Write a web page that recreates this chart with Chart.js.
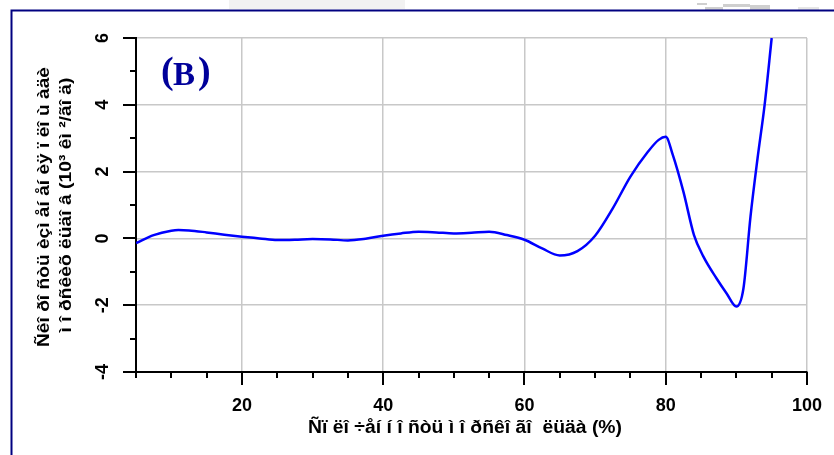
<!DOCTYPE html>
<html>
<head>
<meta charset="utf-8">
<script src="https://cdn.jsdelivr.net/npm/chart.js@4/dist/chart.umd.min.js"></script>
<style>
  html, body { margin: 0; padding: 0; background: #ffffff; }
  #wrap { width: 834px; height: 455px; position: relative; }
</style>
</head>
<body>
<div id="wrap"><canvas id="c" width="834" height="455"></canvas></div>
<script>
// Sea-ice concentration (%) and rate of change of sea-ice area (10^3 km^2/yr)
const concentration = [5, 7.5, 10, 11, 12.5, 15, 17.5, 20, 22.5, 25, 27.5, 30, 32.5, 35, 37.5,
  40, 42.5, 45, 47.5, 50, 52.5, 55, 57.5, 60, 62.5, 65, 67.5, 70, 72.5, 75, 77.5, 79, 80,
  81, 82.5, 84, 85.3, 87.2, 88.6, 90, 91, 92, 93, 94, 95];
const changeRate = [-0.14, 0.1, 0.23, 0.25, 0.24, 0.18, 0.11, 0.05, 0.0, -0.05, -0.04, -0.02, -0.03, -0.06, -0.01,
  0.08, 0.15, 0.2, 0.18, 0.15, 0.17, 0.2, 0.1, -0.04, -0.3, -0.51, -0.38, 0.08, 0.9, 1.85, 2.6, 2.95, 3.04,
  2.5, 1.4, 0.1, -0.53, -1.2, -1.64, -2.04, -1.5, 0.65, 2.4, 4.0, 6.0];

const xTickLabels = [20, 40, 60, 80, 100];
const yTickLabels = [-4, -2, 0, 2, 4, 6];

const xTitle = 'Ñï ëî ÷åí í î ñòü ì î ðñêî ãî  ëüäà (%)';
const yTitleLines = ['Ñêî ðî ñòü èçì åí åí èÿ ï ëî ù àäè', 'ì î ðñêèõ ëüäî â (10³ êì ²/ãî ä)'];
const panelTag = ['(', 'B', ')'];

const FONT = '"Liberation Sans", Arial, sans-serif';
const SERIF = '"Liberation Serif", "Times New Roman", serif';

// draw a string centred on (cx, cy), scaled horizontally to the given width
function drawFitted(ctx, text, cx, cy, width, rotate) {
  ctx.save();
  ctx.translate(cx, cy);
  if (rotate) ctx.rotate(-Math.PI / 2);
  const w = ctx.measureText(text).width;
  ctx.scale(width / w, 1);
  ctx.textAlign = 'center';
  ctx.textBaseline = 'middle';
  ctx.fillText(text, 0, 0);
  ctx.restore();
}

const decor = {
  id: 'decor',
  beforeDraw(chart) {
    const ctx = chart.ctx;
    ctx.save();
    ctx.fillStyle = '#ffffff';
    ctx.fillRect(0, 0, chart.width, chart.height);
    // page scraps above the frame
    ctx.fillStyle = '#f2f2f2';
    ctx.fillRect(229, 0, 176, 9);
    ctx.fillStyle = '#cfcfcf';
    ctx.fillRect(697, 3, 10, 2);
    ctx.fillRect(705, 7, 18, 4);
    ctx.fillRect(723, 4, 27, 3);
    ctx.fillRect(750, 5, 20, 5);
    ctx.fillStyle = '#e6e6e6';
    ctx.fillRect(798, 7, 21, 4);
    // frame
    ctx.strokeStyle = '#000080';
    ctx.lineWidth = 2;
    ctx.strokeRect(11.5, 10.5, 900, 500);
    ctx.restore();
  },
  afterDraw(chart) {
    const ctx = chart.ctx;
    const xs = chart.scales.x, ys = chart.scales.y;
    const area = chart.chartArea;
    ctx.save();
    ctx.strokeStyle = '#000000';
    ctx.lineWidth = 2;
    // x tick marks
    xs.ticks.forEach(t => {
      const px = Math.round(xs.getPixelForValue(t.value));
      const len = t.value % 20 === 0 ? 13 : 6;
      ctx.beginPath();
      ctx.moveTo(px, area.bottom);
      ctx.lineTo(px, area.bottom + len);
      ctx.stroke();
    });
    // y tick marks
    ys.ticks.forEach(t => {
      const py = Math.round(ys.getPixelForValue(t.value));
      const len = Math.abs(t.value) % 2 === 0 ? 13 : 6;
      ctx.beginPath();
      ctx.moveTo(area.left - len, py);
      ctx.lineTo(area.left, py);
      ctx.stroke();
    });
    // tick labels
    ctx.fillStyle = '#000000';
    ctx.font = 'bold 18px ' + FONT;
    ctx.textAlign = 'center';
    ctx.textBaseline = 'middle';
    xTickLabels.forEach(v => {
      ctx.fillText(String(v), xs.getPixelForValue(v), area.bottom + 34);
    });
    yTickLabels.forEach(v => {
      ctx.save();
      ctx.translate(area.left - 33, ys.getPixelForValue(v));
      ctx.rotate(-Math.PI / 2);
      ctx.fillText(String(v), 0, 0);
      ctx.restore();
    });
    // axis titles
    ctx.font = 'bold 18px ' + FONT;
    drawFitted(ctx, xTitle, 465, 428, 314, false);
    ctx.font = 'bold 17px ' + FONT;
    drawFitted(ctx, yTitleLines[0], 44, 207, 280, true);
    drawFitted(ctx, yTitleLines[1], 66, 205, 255, true);
    // panel tag
    ctx.fillStyle = '#00009a';
    ctx.textBaseline = 'alphabetic';
    ctx.textAlign = 'left';
    ctx.font = 'bold 38px ' + SERIF;
    ctx.fillText(panelTag[0], 161, 83);
    ctx.fillText(panelTag[2], 198, 83);
    ctx.font = 'bold 33px ' + SERIF;
    ctx.fillText(panelTag[1], 173, 85);
    ctx.restore();
  }
};

new Chart(document.getElementById('c'), {
  type: 'line',
  data: {
    datasets: [{
      data: concentration.map((c, i) => ({ x: c, y: changeRate[i] })),
      borderColor: '#0000ff',
      borderWidth: 2.5,
      pointRadius: 0,
      fill: false,
      cubicInterpolationMode: 'monotone'
    }]
  },
  options: {
    responsive: false,
    animation: false,
    devicePixelRatio: 1,
    layout: { padding: { left: 136, right: 27, top: 38, bottom: 83 } },
    plugins: { legend: { display: false }, tooltip: { enabled: false } },
    scales: {
      x: {
        type: 'linear',
        min: 5, max: 100,
        ticks: { stepSize: 5, display: false },
        grid: {
          drawTicks: false,
          lineWidth: 1.5,
          color: c => (c.tick && c.tick.value % 20 === 0) ? '#c8c8c8' : 'rgba(0,0,0,0)'
        },
        border: { color: '#000000', width: 2 }
      },
      y: {
        type: 'linear',
        min: -4, max: 6,
        ticks: { stepSize: 1, display: false },
        grid: {
          drawTicks: false,
          lineWidth: 1.5,
          color: c => (c.tick && Math.abs(c.tick.value) % 2 === 0) ? '#c8c8c8' : 'rgba(0,0,0,0)'
        },
        border: { color: '#000000', width: 2 }
      }
    }
  },
  plugins: [decor]
});
</script>
</body>
</html>
